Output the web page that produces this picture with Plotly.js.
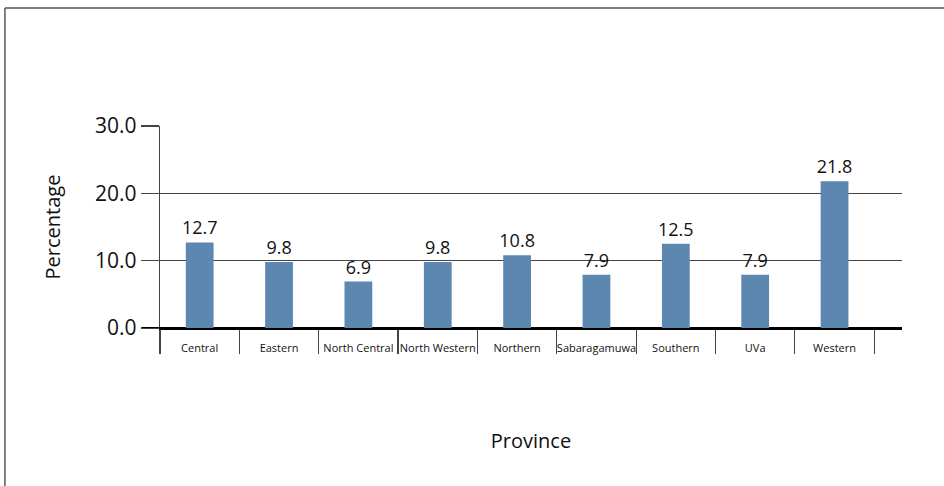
<!DOCTYPE html>
<html>
<head>
<meta charset="utf-8">
<script src="https://cdn.plot.ly/plotly-3.0.1.min.js"></script>
<style>html,body{margin:0;padding:0;background:#fff;}#chart{width:944px;height:486px;}</style>
</head>
<body>
<div id="chart"></div>
<script>
const provinces = ["Central", "Eastern", "North Central", "North Western", "Northern", "Sabaragamuwa", "Southern", "UVa", "Western"];
const percentages = [12.7, 9.8, 6.9, 9.8, 10.8, 7.9, 12.5, 7.9, 21.8];
const yTickValues = [0, 10, 20, 30];
const yTickLabels = ["0.0", "10.0", "20.0", "30.0"];

const trace = {
  type: "bar",
  x: provinces,
  y: percentages,
  width: 0.35,
  marker: {color: "#5b87b0"},
  text: percentages.map(v => v.toFixed(1)),
  textposition: "outside",
  constraintext: "none",
  cliponaxis: false,
  textfont: {family: "Open Sans", size: 18, color: "#111"},
  hoverinfo: "none"
};

const layout = {
  width: 944, height: 486,
  margin: {l: 160, r: 42, t: 126, b: 158},
  paper_bgcolor: "#fff", plot_bgcolor: "#fff",
  showlegend: false,
  font: {family: "Open Sans", color: "#111"},
  xaxis: {
    type: "category",
    range: [-0.5, 8.85],
    tickson: "boundaries",
    ticks: "outside", ticklen: 24, tickwidth: 1.2, tickcolor: "#444",
    tickangle: 0,
    ticklabelstandoff: 9,
    tickfont: {size: 11, color: "#111"},
    showgrid: false, showline: true, linecolor: "#000", linewidth: 2,
    title: {text: "Province", font: {size: 20, color: "#111"}, standoff: 80}
  },
  yaxis: {
    range: [0, 30],
    tickvals: yTickValues, ticktext: yTickLabels,
    ticks: "outside", ticklen: 18, tickwidth: 1.2, tickcolor: "#444",
    tickfont: {size: 21, color: "#111"},
    showgrid: true, gridcolor: "#444", gridwidth: 1.2,
    zeroline: true, zerolinecolor: "#000", zerolinewidth: 2,
    showline: true, linecolor: "#444", linewidth: 1.2,
    title: {text: "Percentage", font: {size: 20, color: "#111"}, standoff: 29}
  },
  shapes: [
    {type: "line", xref: "paper", yref: "y", x0: -0.0243, x1: 0, y0: 0, y1: 0, line: {color: "#000", width: 2}},
    {type: "line", xref: "paper", yref: "paper", x0: -0.209, x1: 1.1, y0: 1.584, y1: 1.584, line: {color: "#555", width: 1.5}},
    {type: "line", xref: "paper", yref: "paper", x0: -0.209, x1: -0.209, y0: 1.584, y1: -0.8, line: {color: "#555", width: 1.5}}
  ]
};

Plotly.newPlot("chart", [trace], layout, {displayModeBar: false, staticPlot: true});
</script>
</body>
</html>
